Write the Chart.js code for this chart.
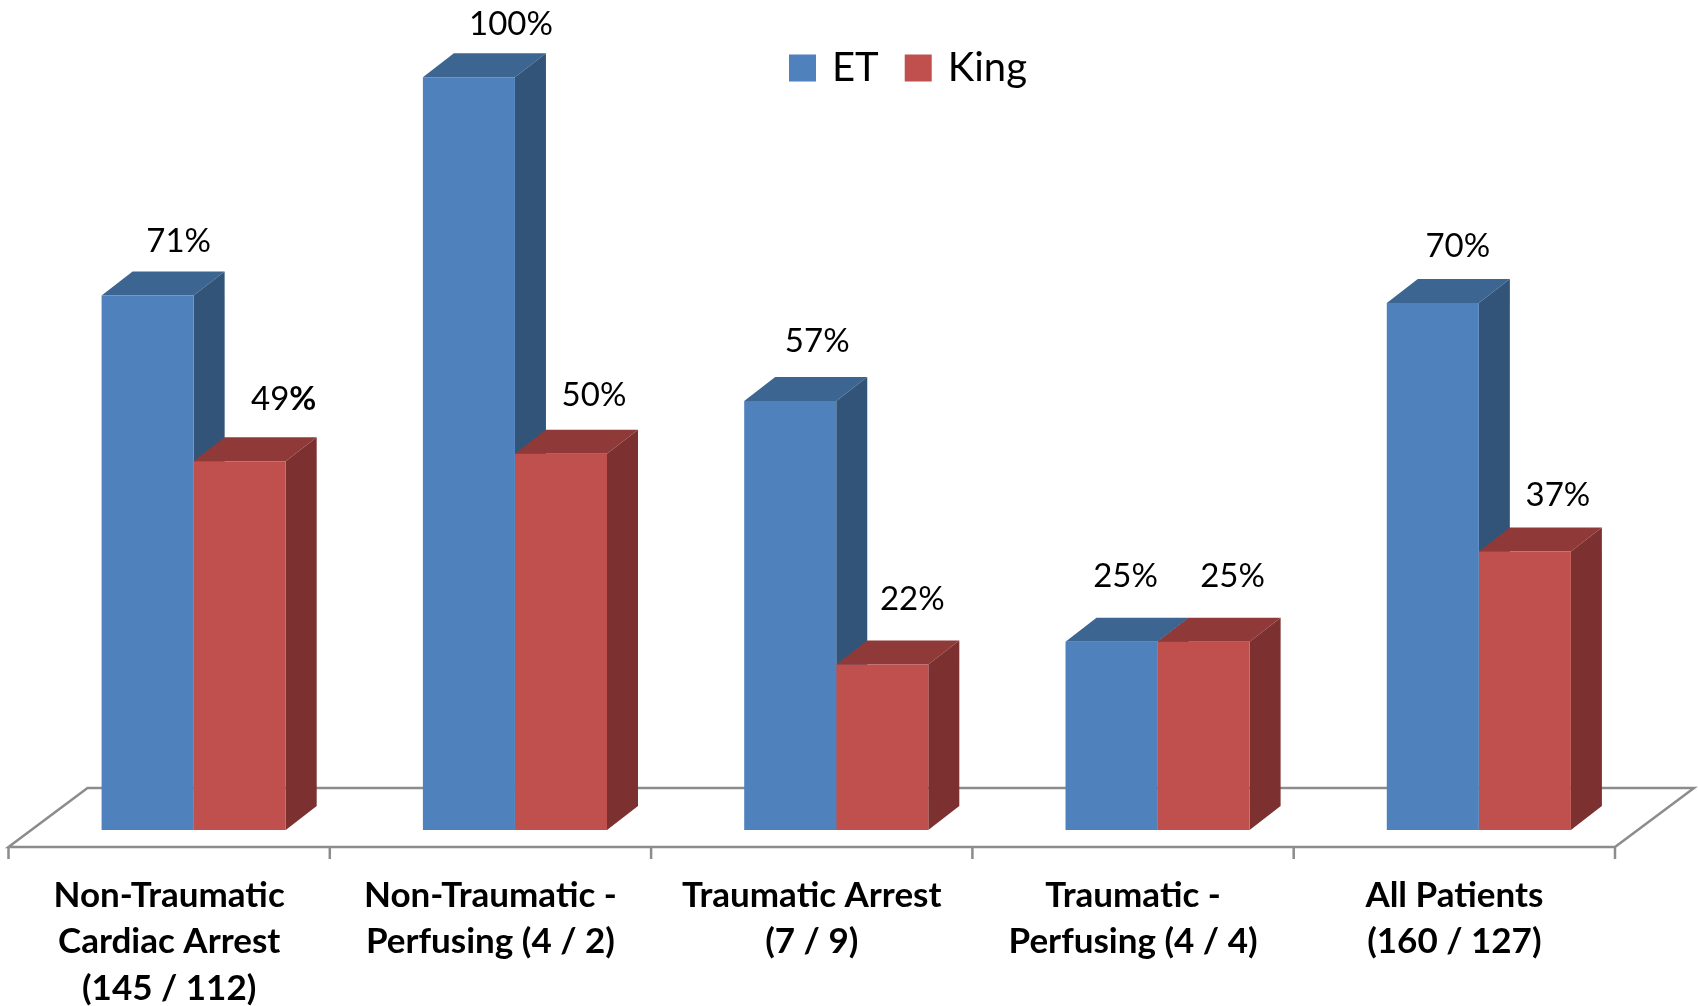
<!DOCTYPE html>
<html>
<head>
<meta charset="utf-8">
<title>ET vs King</title>
<script src="https://cdn.jsdelivr.net/npm/chart.js@4"></script>
<style>
    html, body { margin: 0; padding: 0; background: #fff; }
    canvas { display: block; }
</style>
</head>
<body>
<canvas id="chart" width="1698" height="1006"></canvas>
<script>
const categories = [
    ['Non-Traumatic', 'Cardiac Arrest', '(145 / 112)'],
    ['Non-Traumatic -', 'Perfusing (4 / 2)'],
    ['Traumatic Arrest', '(7 / 9)'],
    ['Traumatic -', 'Perfusing (4 / 4)'],
    ['All Patients', '(160 / 127)']
];
const etValues = [71, 100, 57, 25, 70];
const kingValues = [49, 50, 22, 25, 37];

// spostamento delle etichette rispetto alla barra [dx, dy]
const etLabelNudge = [[31, -54], [42, -53], [27, -60], [14, -65], [25, -57]];
const kingLabelNudge = [[44, -62], [33, -58], [30, -65], [29, -65], [33, -56]];

const FONT = 'Lato, "Open Sans", sans-serif';
const DEPTH_X = 31;
const DEPTH_Y = 24;
const LABEL_SHIFT = 24.5; // le categorie sono spostate rispetto alle barre

const faceColors = [
    { top: '#3d6592', side: '#325479' },
    { top: '#8f3a38', side: '#7c3130' }
];

function poly(ctx, pts, color) {
    ctx.fillStyle = color;
    ctx.beginPath();
    pts.forEach((p, i) => i ? ctx.lineTo(p[0], p[1]) : ctx.moveTo(p[0], p[1]));
    ctx.closePath();
    ctx.fill();
}

const bar3d = {
    id: 'bar3d',
    beforeLayout(chart) {
        // in 'chartArea' la legenda sarebbe verticale
        chart.legend.isHorizontal = () => true;
    },
    afterLayout(chart) {
        // legenda fuori centro come nell'originale
        const legend = chart.legend;
        legend.left = 763;
        legend.right = 1200;
        legend.top = 18;
    },
    beforeDatasetsDraw(chart) {
        const ctx = chart.ctx;
        const xs = chart.scales.x;
        const base = chart.scales.y.getPixelForValue(0);
        const left = xs.left - LABEL_SHIFT;
        const right = xs.right - LABEL_SHIFT;
        const front = base + 17;
        const back = base - 42;

        // pavimento
        ctx.save();
        ctx.strokeStyle = '#8c8c8c';
        ctx.lineWidth = 2.5;
        ctx.beginPath();
        ctx.moveTo(left + 79, back);
        ctx.lineTo(left, front);
        ctx.lineTo(right, front);
        ctx.lineTo(right + 79, back);
        ctx.closePath();
        for (let i = 0; i <= categories.length; i++) {
            const tx = left + (right - left) * i / categories.length;
            ctx.moveTo(tx, front);
            ctx.lineTo(tx, front + 12);
        }
        ctx.stroke();

        // facce laterali e superiori
        chart.data.datasets.forEach((ds, di) => {
            chart.getDatasetMeta(di).data.forEach(bar => {
                const p = bar.getProps(['x', 'y', 'base', 'width']);
                const l = p.x - p.width / 2;
                const r = p.x + p.width / 2;
                poly(ctx, [[l, p.y], [l + DEPTH_X, p.y - DEPTH_Y], [r + DEPTH_X, p.y - DEPTH_Y], [r, p.y]], faceColors[di].top);
                poly(ctx, [[r, p.y], [r + DEPTH_X, p.y - DEPTH_Y], [r + DEPTH_X, p.base - DEPTH_Y], [r, p.base]], faceColors[di].side);
            });
        });
        ctx.restore();
    },
    afterDatasetsDraw(chart) {
        const ctx = chart.ctx;
        ctx.save();
        ctx.fillStyle = '#000';
        ctx.textBaseline = 'middle';
        ctx.font = '33px ' + FONT;
        chart.data.datasets.forEach((ds, di) => {
            const nudge = di === 0 ? etLabelNudge : kingLabelNudge;
            chart.getDatasetMeta(di).data.forEach((bar, i) => {
                const x = bar.x + nudge[i][0];
                const y = bar.y + nudge[i][1];
                if (di === 1 && i === 0) {
                    // nell'originale il solo % del 49 e' in grassetto
                    const num = String(ds.data[i]);
                    const w1 = ctx.measureText(num).width;
                    ctx.font = 'bold 33px ' + FONT;
                    const w2 = ctx.measureText('%').width;
                    ctx.textAlign = 'left';
                    ctx.fillText('%', x - (w1 + w2) / 2 + w1, y);
                    ctx.font = '33px ' + FONT;
                    ctx.fillText(num, x - (w1 + w2) / 2, y);
                } else {
                    ctx.textAlign = 'center';
                    ctx.fillText(ds.data[i] + '%', x, y);
                }
            });
        });
        ctx.restore();
    }
};

new Chart(document.getElementById('chart'), {
    type: 'bar',
    data: {
        labels: categories,
        datasets: [
            { label: 'ET', data: etValues, backgroundColor: '#4f81bd', borderWidth: 0 },
            { label: 'King', data: kingValues, backgroundColor: '#c0504d', borderWidth: 0 }
        ]
    },
    options: {
        responsive: false,
        animation: false,
        layout: { padding: { left: 33, right: 58.5, top: 2, bottom: 0 } },
        datasets: { bar: { barPercentage: 1, categoryPercentage: 0.573 } },
        plugins: {
            tooltip: { enabled: false },
            legend: {
                position: 'chartArea',
                align: 'start',
                labels: {
                    usePointStyle: true,
                    pointStyle: 'rect',
                    boxWidth: 19, // piu' stretto del quadrato: testo vicino al simbolo
                    boxHeight: 27,
                    padding: 30,
                    color: '#000',
                    font: { family: FONT, size: 40 }
                }
            }
        },
        scales: {
            x: {
                grid: { display: false },
                border: { display: false },
                afterFit: s => { s.height = 176; },
                ticks: {
                    autoSkip: false,
                    maxRotation: 0,
                    minRotation: 0,
                    labelOffset: -LABEL_SHIFT,
                    padding: 34,
                    color: '#000',
                    font: { family: FONT, size: 35, weight: 'bold', lineHeight: 1.33 }
                }
            },
            y: {
                display: false,
                min: 0,
                max: 110
            }
        }
    },
    plugins: [bar3d]
});
</script>
</body>
</html>
